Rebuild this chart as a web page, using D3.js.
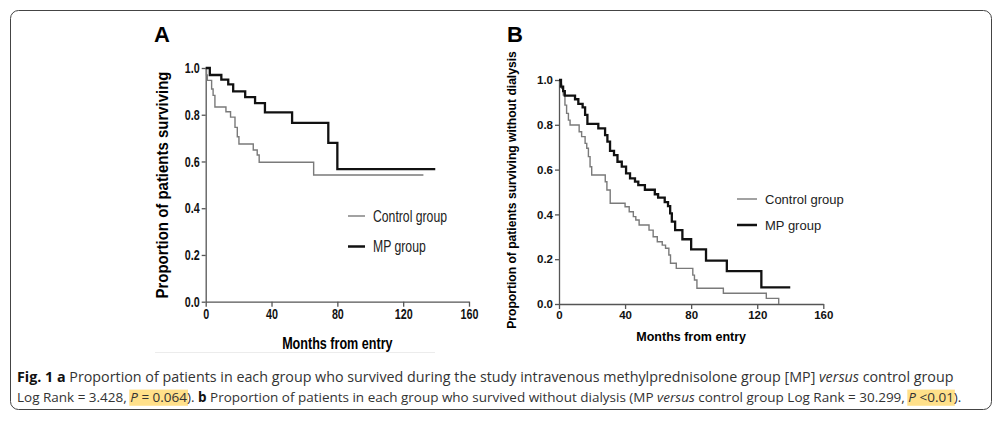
<!DOCTYPE html>
<html>
<head>
<meta charset="utf-8">
<script src="https://cdn.jsdelivr.net/npm/d3@7"></script>
<style>
  body { margin: 0; background: #fff; }
  svg { display: block; }
</style>
</head>
<body>
<div class="canvas"></div>
<script>
// panel A - survival (months, proportion)
const aControlMonths = [0, 0.5, 1, 3.6, 4.5, 5.6, 12.3, 15.1, 17.8, 19.2, 20.2, 28.9, 31.3, 32.5, 65.6];
const aControlSurv   = [1, 0.97, 0.947, 0.91, 0.883, 0.833, 0.813, 0.79, 0.746, 0.706, 0.675, 0.649, 0.628, 0.597, 0.542];
const aControlEnd = 132.3;
const aMpMonths = [0, 2.5, 9.5, 13.7, 16.7, 24, 30, 36, 52.5, 74.5, 80];
const aMpSurv   = [1, 0.97, 0.95, 0.93, 0.90, 0.875, 0.85, 0.81, 0.765, 0.68, 0.567];
const aMpEnd = 139.5;

// panel B - survival without dialysis
const bControlMonths = [0, 0.8, 1.6, 2.6, 3.6, 4.6, 5.7, 6.7, 12.2, 13.7, 15.8, 16.8, 17.8, 18.8, 19.8, 28, 29, 31, 40, 42.5, 45, 46.5, 48.5, 54.5, 57, 59.5, 62.5, 64.5, 66.5, 67.5, 71, 81, 82, 83.5, 99.5, 125.5, 133];
const bControlSurv   = [1, 0.98, 0.963, 0.933, 0.888, 0.851, 0.821, 0.799, 0.769, 0.747, 0.717, 0.695, 0.658, 0.613, 0.576, 0.546, 0.509, 0.45, 0.434, 0.412, 0.39, 0.375, 0.353, 0.33, 0.30, 0.278, 0.263, 0.249, 0.219, 0.182, 0.159, 0.129, 0.107, 0.07, 0.048, 0.025, 0];
const bControlEnd = 133;
const bMpMonths = [0, 1.2, 2.5, 3.5, 9.7, 11.7, 14.3, 15.8, 17.2, 23.8, 27.9, 29.3, 30.9, 33.3, 35.4, 38, 40.6, 43, 46, 48, 52, 58, 60, 64, 66, 67.3, 68.3, 70.3, 74.7, 80, 89, 101.6, 122.5];
const bMpSurv   = [1, 0.97, 0.95, 0.93, 0.914, 0.893, 0.878, 0.844, 0.804, 0.784, 0.754, 0.725, 0.684, 0.665, 0.635, 0.613, 0.583, 0.561, 0.546, 0.531, 0.51, 0.49, 0.475, 0.455, 0.437, 0.405, 0.368, 0.33, 0.289, 0.244, 0.194, 0.147, 0.074];
const bMpEnd = 140;

const xTicks = [0, 40, 80, 120, 160];
const yTicks = [0, 0.2, 0.4, 0.6, 0.8, 1.0];
const legendLabels = ['Control group', 'MP group'];

const svg = d3.select('.canvas')
              .append('svg')
              .attr('width', 1000)
              .attr('height', 422);

// outer rounded frame
svg.append('rect')
   .attr('x', 10.5).attr('y', 10.5)
   .attr('width', 981).attr('height', 399)
   .attr('rx', 8)
   .attr('fill', 'none')
   .attr('stroke', '#444')
   .attr('stroke-width', 1);

const font = '"Liberation Sans", Arial, sans-serif';

// no narrow font installed, so squeeze text horizontally
const squeeze = (sel, k) => {
    if (k == 1) return;
    sel.each(function () {
        const len = this.getComputedTextLength();
        d3.select(this).attr('textLength', len * k).attr('lengthAdjust', 'spacingAndGlyphs');
    });
}

// turn months + surv into step points
const steps = (months, surv, end) => {
    const pts = months.map((m, i) => [m, surv[i]]);
    pts.push([end, surv[surv.length - 1]]);
    return pts;
}

const drawPanel = (p) => {
    const g = svg.append('g');
    const x = d3.scaleLinear().domain([0, 160]).range(p.xRange);
    const y = d3.scaleLinear().domain([0, 1]).range(p.yRange);

    const xAxis = d3.axisBottom(x).tickValues(xTicks).tickSize(5).tickSizeOuter(0).tickPadding(2);
    const yAxis = d3.axisLeft(y).tickValues(yTicks).tickFormat(d3.format('.1f')).tickSize(4).tickSizeOuter(0).tickPadding(2);

    const xg = g.append('g').attr('transform', `translate(0, ${p.yRange[0]})`).call(xAxis);
    const yg = g.append('g').attr('transform', `translate(${p.xRange[0]}, 0)`).call(yAxis);
    [xg, yg].forEach(a => {
        a.selectAll('path, line').attr('stroke', '#555').attr('stroke-width', 1.3);
        a.selectAll('text')
         .attr('fill', '#111')
         .style('font-family', font)
         .style('font-weight', 'bold')
         .style('font-size', p.tickSize + 'px');
        squeeze(a.selectAll('text'), p.k);
    });

    const line = d3.line()
                   .x(d => x(d[0]))
                   .y(d => y(d[1]))
                   .curve(d3.curveStepAfter);

    g.append('path')
     .attr('d', line(steps(p.control[0], p.control[1], p.control[2])))
     .attr('fill', 'none').attr('stroke', '#7a7a7a').attr('stroke-width', 1.4);
    g.append('path')
     .attr('d', line(steps(p.mp[0], p.mp[1], p.mp[2])))
     .attr('fill', 'none').attr('stroke', '#111').attr('stroke-width', 2.3);

    // panel letter
    g.append('text')
     .attr('x', p.letterX).attr('y', 42)
     .style('font-family', font).style('font-weight', 'bold').style('font-size', '22px')
     .text(p.letter);

    // axis titles
    const xt = g.append('text')
     .attr('x', (p.xRange[0] + p.xRange[1]) / 2).attr('y', p.xTitleY)
     .attr('text-anchor', 'middle')
     .style('font-family', font).style('font-weight', 'bold').style('font-size', p.titleSize + 'px')
     .text('Months from entry');
    squeeze(xt, p.k);
    const yt = g.append('text')
     .attr('transform', `translate(${p.yTitleX}, ${p.yTitleY}) rotate(-90)`)
     .attr('text-anchor', 'middle')
     .style('font-family', font).style('font-weight', 'bold').style('font-size', p.yTitleSize + 'px')
     .text(p.yTitle);
    squeeze(yt, p.yk);

    // legend
    legendLabels.forEach((lab, i) => {
        const ly = p.legendY + i * p.legendGap;
        g.append('line')
         .attr('x1', p.legendX).attr('x2', p.legendX + p.legendLen)
         .attr('y1', ly).attr('y2', ly)
         .attr('stroke', i == 0 ? '#7a7a7a' : '#111')
         .attr('stroke-width', i == 0 ? 1.4 : 2.5);
        const lt = g.append('text')
         .attr('x', p.legendX + p.legendLen + 8).attr('y', ly)
         .attr('dy', '0.35em')
         .attr('fill', '#222')
         .style('font-family', font).style('font-size', p.legendSize + 'px')
         .text(lab);
        squeeze(lt, p.k);
    });
}

drawPanel({
    letter: 'A', letterX: 154,
    xRange: [205.7, 469], yRange: [301.7, 68],
    tickSize: 14.5, titleSize: 17, yTitleSize: 17, k: 0.74, yk: 0.88,
    xTitleY: 349, yTitleX: 168, yTitleY: 185,
    yTitle: 'Proportion of patients surviving',
    control: [aControlMonths, aControlSurv, aControlEnd],
    mp: [aMpMonths, aMpSurv, aMpEnd],
    legendX: 348, legendLen: 17, legendY: 216, legendGap: 30.5, legendSize: 16.5
});

drawPanel({
    letter: 'B', letterX: 507,
    xRange: [559, 823.3], yRange: [304, 80],
    tickSize: 11.5, titleSize: 12.5, yTitleSize: 12.1, k: 1, yk: 1,
    xTitleY: 341, yTitleX: 516, yTitleY: 190,
    yTitle: 'Proportion of patients surviving without dialysis',
    control: [bControlMonths, bControlSurv, bControlEnd],
    mp: [bMpMonths, bMpSurv, bMpEnd],
    legendX: 737, legendLen: 20, legendY: 199, legendGap: 26, legendSize: 13
});

// faint bottom edge under panel A image
svg.append('line')
   .attr('x1', 155).attr('x2', 435).attr('y1', 352.5).attr('y2', 352.5)
   .attr('stroke', '#ececec').attr('stroke-width', 1);

// caption
const captionLines = [
    [{t: 'Fig. 1 ', b: 1}, {t: 'a', b: 1}, {t: ' Proportion of patients in each group who survived during the study intravenous methylprednisolone group [MP] '}, {t: 'versus', i: 1}, {t: ' control group'}],
    [{t: 'Log Rank = 3.428, '}, {t: 'P', i: 1, hl: 1}, {t: ' = 0.064', hl: 1}, {t: '). '}, {t: 'b', b: 1}, {t: ' Proportion of patients in each group who survived without dialysis (MP '}, {t: 'versus', i: 1}, {t: ' control group Log Rank = 30.299, '}, {t: 'P', i: 1, hl: 1}, {t: ' <0.01', hl: 1}, {t: ').'}]
];
const captionY = [382, 402];
const captionW = [937, 945];

captionLines.forEach((segs, li) => {
    const cg = svg.append('g');
    const txt = cg.append('text')
                  .attr('x', 17).attr('y', captionY[li])
                  .attr('fill', '#333')
                  .style('font-family', '"Open Sans", sans-serif')
                  .style('font-size', '14px');
    segs.forEach(s => {
        txt.append('tspan')
           .style('font-weight', s.b ? 'bold' : null)
           .style('font-style', s.i ? 'italic' : null)
           .style('fill', s.b ? '#111' : null)
           .text(s.t);
    });
    const node = txt.node();
    const fs = 14 * captionW[li] / node.getComputedTextLength();
    txt.style('font-size', fs + 'px');

    // yellow marks behind the P values
    let idx = 0;
    let runStart = null;
    segs.forEach((s, si) => {
        if (s.hl && runStart === null) runStart = idx;
        idx += s.t.length;
        const next = segs[si + 1];
        if (s.hl && (!next || !next.hl)) {
            const x0 = node.getStartPositionOfChar(runStart).x;
            const x1 = node.getEndPositionOfChar(idx - 1).x;
            cg.insert('rect', 'text')
              .attr('x', x0 - 1).attr('y', captionY[li] - fs * 0.92)
              .attr('width', x1 - x0 + 2).attr('height', fs * 1.2)
              .attr('fill', '#ffe08a');
            runStart = null;
        }
    });
});
</script>
</body>
</html>
